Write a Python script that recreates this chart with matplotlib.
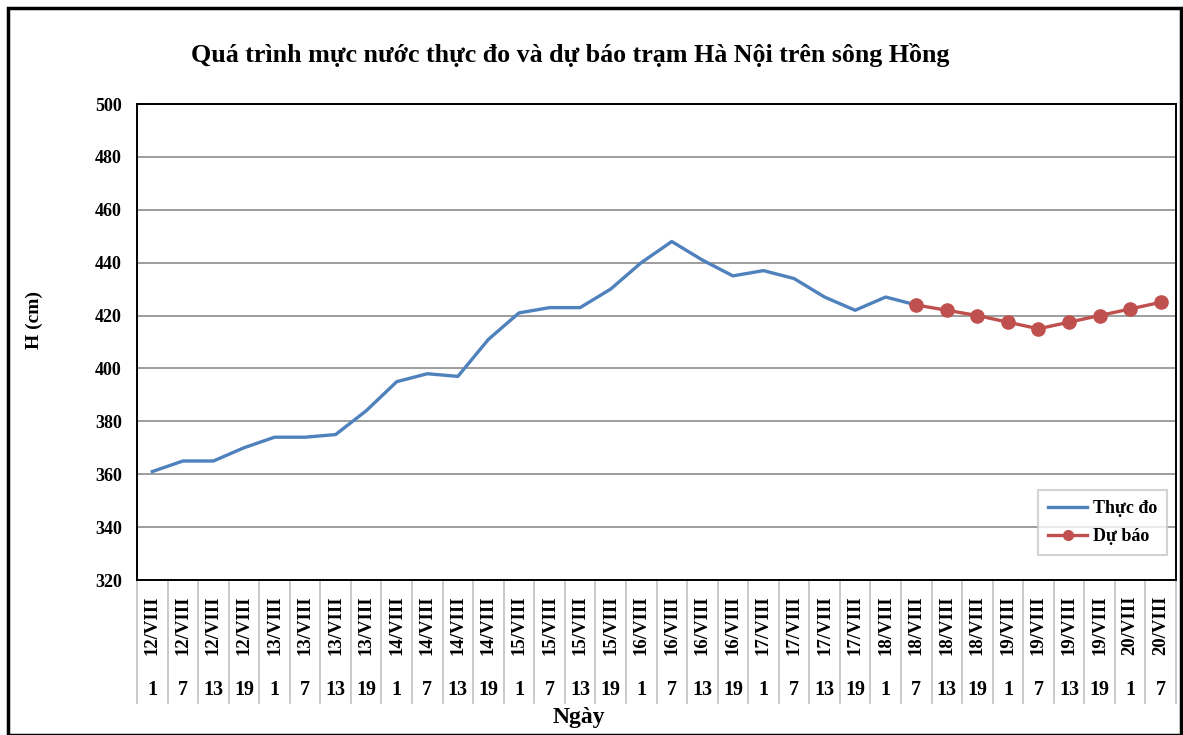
import matplotlib
matplotlib.use("Agg")
import matplotlib.pyplot as plt
from matplotlib.transforms import blended_transform_factory
from matplotlib.patches import Rectangle

days = ["12/VIII"] * 4 + ["13/VIII"] * 4 + ["14/VIII"] * 4 + ["15/VIII"] * 4 + \
       ["16/VIII"] * 4 + ["17/VIII"] * 4 + ["18/VIII"] * 4 + ["19/VIII"] * 4 + ["20/VIII"] * 2
hours = ["1", "7", "13", "19"] * 8 + ["1", "7"]

observed = [361, 365, 365, 370, 374, 374, 375, 384, 395, 398, 397, 411, 421, 423, 423, 430,
            440, 448, 441, 435, 437, 434, 427, 422, 427, 424]
forecast_start = 25
forecast = [424, 422, 420, 417.5, 415, 417.5, 420, 422.5, 425]

yticks = list(range(320, 501, 20))

W, H = 1183, 735
fig = plt.figure(figsize=(W / 100, H / 100), dpi=100)
serif = ["Liberation Serif", "DejaVu Serif"]
plt.rcParams["font.family"] = serif
plt.rcParams["font.weight"] = "bold"

left, right, top, bottom = 137, 1176, 104, 580
ax = fig.add_axes([left / W, 1 - bottom / H, (right - left) / W, (bottom - top) / H])

x_obs = list(range(len(observed)))
x_fc = list(range(forecast_start, forecast_start + len(forecast)))
ax.plot(x_obs, observed, color="#4F81BD", lw=2.4, label="Thực đo", solid_joinstyle="round", zorder=3)
ax.plot(x_fc, forecast, color="#C0504D", lw=2.4, marker="o", markersize=9.5, label="Dự báo", zorder=4)

ax.set_xlim(-0.5, len(days) - 0.5)
ax.set_ylim(320, 500)
ax.set_yticks(yticks)
ax.set_yticklabels([str(v) for v in yticks], fontsize=13, fontweight="bold")
ax.tick_params(axis="y", length=0, pad=11)
ax.set_xticks([])
ax.yaxis.grid(True, color="#8c8c8c", lw=1.2)
ax.set_axisbelow(True)
for s in ax.spines.values():
    s.set_color("black")
    s.set_linewidth(1.4)

# category table below axis
trans = blended_transform_factory(ax.transData, ax.transAxes)
ah = bottom - top
y_end = -(703 - bottom) / ah
for i in range(len(days) + 1):
    ax.plot([i - 0.5, i - 0.5], [0, y_end], transform=trans, color="#c0c0c0", lw=1.2, clip_on=False)
for i, (d, h) in enumerate(zip(days, hours)):
    ax.text(i, -(625 - bottom) / ah, d, transform=trans, rotation=90, ha="center", va="center",
            fontsize=13.5, fontweight="bold")
    ax.text(i, -(690 - bottom) / ah, h, transform=trans, ha="center", va="center",
            fontsize=14.5, fontweight="bold")

fig.text(579 / W, 1 - 717 / H, "Ngày", ha="center", va="center", fontsize=17, fontweight="bold")
fig.text(34 / W, 1 - 320 / H, "H (cm)", ha="center", va="center", rotation=90, fontsize=14, fontweight="bold")
fig.text(570 / W, 1 - 55 / H, "Quá trình mực nước thực đo và dự báo trạm Hà Nội trên sông Hồng",
         ha="center", va="center", fontsize=18.7, fontweight="bold")

leg = ax.legend(loc="lower right", bbox_to_anchor=((1167 - left) / (right - left), 25 / ah),
                borderaxespad=0, frameon=True, fancybox=False, edgecolor="#c8c8c8",
                prop={"family": serif, "weight": "bold", "size": 13},
                handlelength=2.2, borderpad=0.55, labelspacing=0.6, handletextpad=0.3)
leg.get_frame().set_linewidth(1.5)
leg.legend_handles[1].set_markersize(7)

fig.patches.append(Rectangle((8 / W, 0), (1181 - 8) / W, 1 - 8 / H, transform=fig.transFigure,
                             fill=False, edgecolor="black", lw=2.5))

fig.savefig("out.png", dpi=100)
